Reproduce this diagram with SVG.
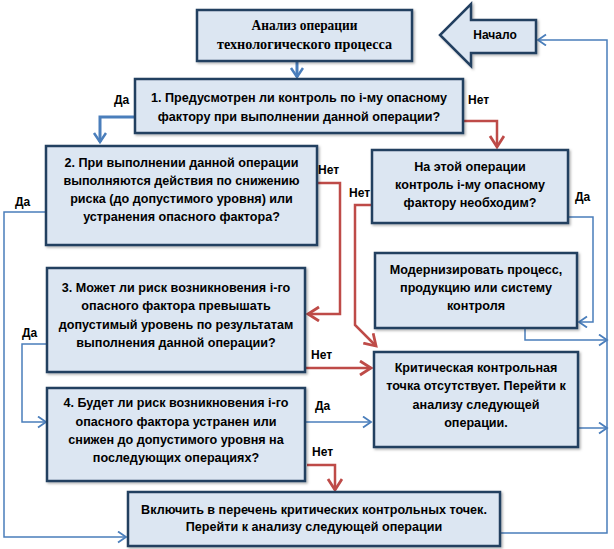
<svg xmlns="http://www.w3.org/2000/svg" width="614" height="549" viewBox="0 0 614 549">
<style>
.box{fill:#dce6f2;stroke:#243f60;stroke-width:2.5;filter:url(#sh)}
.t{font-family:"Liberation Sans",Arial,sans-serif;font-weight:bold;font-size:12.6px;fill:#000;text-anchor:middle}
.ts{font-family:"Liberation Serif","Times New Roman",serif;font-weight:bold;font-size:14px;fill:#000;text-anchor:middle}
.lb{font-family:"Liberation Sans",Arial,sans-serif;font-weight:bold;font-size:12px;fill:#000}
.b{fill:none;stroke:#4a7ebb;stroke-width:1.5}
.bt{fill:none;stroke:#4a7ebb;stroke-width:3}
.r{fill:none;stroke:#be4b48;stroke-width:2.5}
</style>
<defs>
<filter id="sh" x="-5%" y="-5%" width="115%" height="120%">
<feDropShadow dx="1.5" dy="1.5" stdDeviation="1" flood-color="#000" flood-opacity="0.3"/>
</filter>
<marker id="ab" markerUnits="userSpaceOnUse" markerWidth="12" markerHeight="14" refX="9" refY="6" orient="auto">
<path d="M1,0.5 L9,6 L1,11.5" fill="none" stroke="#4a7ebb" stroke-width="1.8"/>
</marker>
<marker id="abt" markerUnits="userSpaceOnUse" markerWidth="14" markerHeight="16" refX="10" refY="7" orient="auto">
<path d="M1,1 L10,7 L1,13" fill="none" stroke="#4a7ebb" stroke-width="2.5"/>
</marker>
<marker id="ar" markerUnits="userSpaceOnUse" markerWidth="16" markerHeight="18" refX="12" refY="8" orient="auto">
<path d="M1,1 L12,8 L1,15" fill="none" stroke="#be4b48" stroke-width="2.8"/>
</marker>
</defs>

<g id="connectors">
<path class="bt" d="M297,61 L297,77" marker-end="url(#abt)"/>
<path class="bt" d="M135,117 L100,117 L100,142" marker-end="url(#abt)"/>
<path class="r" d="M463,121 L497,121 L497,147" marker-end="url(#ar)"/>
<path class="r" d="M317,183 L340,183 L340,314 L308,314" marker-end="url(#ar)"/>
<path class="b" d="M46,212 L4,212 L4,537 L126,537" marker-end="url(#ab)"/>
<path class="r" d="M372,205 L355,205 L355,325 L376,346" marker-end="url(#ar)"/>
<path class="b" d="M568,217 L593,217 L593,322 L579,322" marker-end="url(#ab)"/>
<path class="b" d="M525,328 L525,340 L607,340" marker-end="url(#ab)"/>
<path class="b" d="M578,428 L607,428" marker-end="url(#ab)"/>
<path class="r" d="M305,368 L371,368" marker-end="url(#ar)"/>
<path class="b" d="M47,344 L22,344 L22,422 L46,422" marker-end="url(#ab)"/>
<path class="b" d="M305,422 L371,422" marker-end="url(#ab)"/>
<path class="r" d="M307,465 L335,465 L335,490" marker-end="url(#ar)"/>
<path class="b" d="M500,533 L607,533 L607,40 L538,40" marker-end="url(#ab)"/>
</g>

<g id="start">
<path class="box" d="M536,20 L471,20 L471,4 L440,35 L471,66 L471,53 L536,53 Z"/>
<text class="lb" x="495" y="39" font-size="11.5" text-anchor="middle">Начало</text>
</g>

<g id="n0">
<rect class="box" x="197" y="10" width="215" height="51"/>
<text class="ts" x="304.5" y="30" textLength="106" lengthAdjust="spacingAndGlyphs">Анализ операции</text>
<text class="ts" x="304.5" y="49" textLength="175" lengthAdjust="spacingAndGlyphs">технологического процесса</text>
</g>

<g id="n1">
<rect class="box" x="135" y="79" width="328" height="54"/>
<text class="t" x="299" y="102">1. Предусмотрен ли контроль по i-му опасному</text>
<text class="t" x="299" y="121">фактору при выполнении данной операции?</text>
</g>
<text class="lb" x="114" y="104">Да</text>
<text class="lb" x="468" y="104">Нет</text>

<g id="n2">
<rect class="box" x="46" y="146" width="271" height="99"/>
<text class="t" x="181.5" y="167">2. При выполнении данной операции</text>
<text class="t" x="181.5" y="185">выполняются действия по снижению</text>
<text class="t" x="181.5" y="203">риска (до допустимого уровня) или</text>
<text class="t" x="181.5" y="221">устранения опасного фактора?</text>
</g>
<text class="lb" x="318" y="174">Нет</text>
<text class="lb" x="15" y="206">Да</text>

<g id="n3">
<rect class="box" x="372" y="150" width="196" height="73"/>
<text class="t" x="470" y="171">На этой операции</text>
<text class="t" x="470" y="189">контроль i-му опасному</text>
<text class="t" x="470" y="207">фактору необходим?</text>
</g>
<text class="lb" x="349" y="197">Нет</text>
<text class="lb" x="575" y="201">Да</text>

<g id="n4">
<rect class="box" x="375" y="253" width="202" height="75"/>
<text class="t" x="476" y="274">Модернизировать процесс,</text>
<text class="t" x="476" y="292">продукцию или систему</text>
<text class="t" x="476" y="310">контроля</text>
</g>

<g id="n5">
<rect class="box" x="47" y="268" width="258" height="104"/>
<text class="t" x="176" y="292">3. Может ли риск возникновения i-го</text>
<text class="t" x="176" y="310">опасного фактора превышать</text>
<text class="t" x="176" y="329">допустимый уровень по результатам</text>
<text class="t" x="176" y="347">выполнения данной операции?</text>
</g>
<text class="lb" x="22" y="337">Да</text>
<text class="lb" x="311" y="359">Нет</text>

<g id="n6">
<rect class="box" x="374" y="352" width="204" height="95"/>
<text class="t" x="476" y="372">Критическая контрольная</text>
<text class="t" x="476" y="390">точка отсутствует. Перейти к</text>
<text class="t" x="476" y="409">анализу следующей</text>
<text class="t" x="476" y="427">операции.</text>
</g>

<g id="n7">
<rect class="box" x="47" y="388" width="258" height="93"/>
<text class="t" x="176" y="407">4. Будет ли риск возникновения i-го</text>
<text class="t" x="176" y="426">опасного фактора устранен или</text>
<text class="t" x="176" y="444">снижен до допустимого уровня на</text>
<text class="t" x="176" y="462">последующих операциях?</text>
</g>
<text class="lb" x="315" y="410">Да</text>
<text class="lb" x="312" y="456">Нет</text>

<g id="n8">
<rect class="box" x="128" y="492" width="372" height="54"/>
<text class="t" x="314" y="514">Включить в перечень критических контрольных точек.</text>
<text class="t" x="314" y="531">Перейти к анализу следующей операции</text>
</g>
</svg>
